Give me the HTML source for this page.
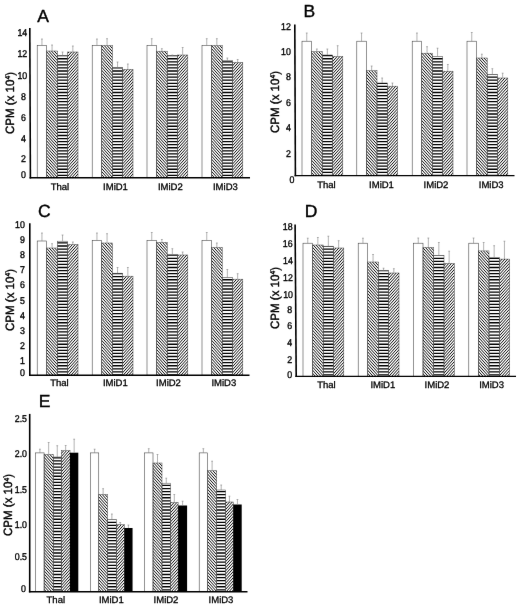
<!DOCTYPE html>
<html lang="en"><head><meta charset="utf-8"><title>Figure</title>
<style>html,body{margin:0;padding:0;background:#fff}body{width:520px;height:606px;overflow:hidden}svg{display:block}</style>
</head><body>
<svg width="520" height="606" viewBox="0 0 520 606" font-family='"Liberation Sans", sans-serif'><style>text{stroke:#000;stroke-width:0.4px;text-rendering:geometricPrecision}.t{stroke-width:0.35px}.x{stroke-width:0.3px}</style>
<defs>
<clipPath id="cd"><rect x="46.70" y="51.00" width="10.70" height="126.80"/><rect x="101.70" y="45.50" width="10.70" height="132.30"/><rect x="156.50" y="51.20" width="10.70" height="126.60"/><rect x="211.50" y="45.50" width="10.70" height="132.30"/><rect x="311.50" y="51.70" width="10.70" height="123.90"/><rect x="366.30" y="70.70" width="10.70" height="104.90"/><rect x="421.70" y="53.20" width="10.70" height="122.40"/><rect x="476.50" y="58.00" width="10.70" height="117.60"/><rect x="46.70" y="248.00" width="10.70" height="127.20"/><rect x="101.70" y="243.00" width="10.70" height="132.20"/><rect x="156.50" y="242.50" width="10.70" height="132.70"/><rect x="211.50" y="247.50" width="10.70" height="127.70"/><rect x="312.50" y="245.00" width="10.70" height="131.40"/><rect x="367.70" y="262.00" width="10.70" height="114.40"/><rect x="423.00" y="247.50" width="10.70" height="128.90"/><rect x="478.30" y="250.90" width="10.70" height="125.50"/><rect x="44.10" y="454.40" width="9.10" height="137.30"/><rect x="98.75" y="494.50" width="8.75" height="97.20"/><rect x="153.00" y="463.00" width="9.00" height="128.70"/><rect x="207.50" y="470.70" width="9.20" height="121.00"/></clipPath>
<clipPath id="ch"><rect x="57.40" y="55.50" width="10.30" height="122.30"/><rect x="112.40" y="67.50" width="10.30" height="110.30"/><rect x="167.20" y="55.50" width="10.30" height="122.30"/><rect x="222.20" y="60.50" width="10.30" height="117.30"/><rect x="322.20" y="55.00" width="10.30" height="120.60"/><rect x="377.00" y="83.00" width="10.30" height="92.60"/><rect x="432.40" y="56.50" width="10.30" height="119.10"/><rect x="487.20" y="74.50" width="10.30" height="101.10"/><rect x="57.40" y="241.20" width="10.30" height="134.00"/><rect x="112.40" y="273.20" width="10.30" height="102.00"/><rect x="167.20" y="254.50" width="10.30" height="120.70"/><rect x="222.20" y="277.50" width="10.30" height="97.70"/><rect x="323.20" y="246.20" width="10.30" height="130.20"/><rect x="378.40" y="270.50" width="10.30" height="105.90"/><rect x="433.70" y="255.40" width="10.30" height="121.00"/><rect x="489.00" y="257.40" width="10.30" height="119.00"/><rect x="53.20" y="457.00" width="8.10" height="134.70"/><rect x="107.50" y="519.70" width="8.75" height="72.00"/><rect x="162.00" y="483.20" width="8.50" height="108.50"/><rect x="216.70" y="490.00" width="9.00" height="101.70"/></clipPath>
<clipPath id="ce"><rect x="67.70" y="52.00" width="10.30" height="125.80"/><rect x="122.70" y="69.50" width="10.30" height="108.30"/><rect x="177.50" y="55.00" width="10.30" height="122.80"/><rect x="232.50" y="62.50" width="10.30" height="115.30"/><rect x="332.50" y="56.50" width="10.30" height="119.10"/><rect x="387.30" y="86.20" width="10.30" height="89.40"/><rect x="442.70" y="71.20" width="10.30" height="104.40"/><rect x="497.50" y="78.00" width="10.30" height="97.60"/><rect x="67.70" y="244.50" width="10.30" height="130.70"/><rect x="122.70" y="276.20" width="10.30" height="99.00"/><rect x="177.50" y="255.00" width="10.30" height="120.20"/><rect x="232.50" y="279.20" width="10.30" height="96.00"/><rect x="333.50" y="248.00" width="10.30" height="128.40"/><rect x="388.70" y="273.00" width="10.30" height="103.40"/><rect x="444.00" y="263.40" width="10.30" height="113.00"/><rect x="499.30" y="259.10" width="10.30" height="117.30"/><rect x="61.30" y="450.70" width="8.70" height="141.00"/><rect x="116.25" y="524.70" width="8.00" height="67.00"/><rect x="170.50" y="502.50" width="7.60" height="89.20"/><rect x="225.70" y="502.00" width="7.50" height="89.70"/></clipPath>
<filter id="soft" filterUnits="userSpaceOnUse" x="0" y="0" width="520" height="606" color-interpolation-filters="sRGB"><feConvolveMatrix order="3" kernelMatrix="0.00163 0.03713 0.00163 0.03713 0.84497 0.03713 0.00163 0.03713 0.00163" divisor="1" edgeMode="duplicate" preserveAlpha="true"/></filter>
</defs>
<g filter="url(#soft)">
<rect width="520" height="606" fill="#fff"/>
<path clip-path="url(#cd)" d="M0,-586.65L520,-6.14M0,-583.58L520,-3.07M0,-580.51L520,0.00M0,-577.44L520,3.07M0,-574.37L520,6.14M0,-571.30L520,9.21M0,-568.23L520,12.28M0,-565.16L520,15.35M0,-562.09L520,18.42M0,-559.02L520,21.49M0,-555.95L520,24.56M0,-552.88L520,27.63M0,-549.81L520,30.70M0,-546.74L520,33.77M0,-543.67L520,36.84M0,-540.60L520,39.91M0,-537.53L520,42.98M0,-534.46L520,46.05M0,-531.39L520,49.12M0,-528.32L520,52.19M0,-525.25L520,55.26M0,-522.18L520,58.33M0,-519.11L520,61.40M0,-516.04L520,64.47M0,-512.97L520,67.54M0,-509.90L520,70.61M0,-506.83L520,73.68M0,-503.76L520,76.75M0,-500.69L520,79.82M0,-497.62L520,82.89M0,-494.55L520,85.96M0,-491.48L520,89.03M0,-488.41L520,92.10M0,-485.34L520,95.17M0,-482.27L520,98.24M0,-479.20L520,101.31M0,-476.13L520,104.38M0,-473.06L520,107.45M0,-469.99L520,110.52M0,-466.92L520,113.59M0,-463.85L520,116.66M0,-460.78L520,119.73M0,-457.71L520,122.80M0,-454.64L520,125.87M0,-451.57L520,128.94M0,-448.50L520,132.01M0,-445.43L520,135.08M0,-442.36L520,138.15M0,-439.29L520,141.22M0,-436.22L520,144.29M0,-433.15L520,147.36M0,-430.08L520,150.43M0,-427.01L520,153.50M0,-423.94L520,156.57M0,-420.87L520,159.64M0,-417.80L520,162.71M0,-414.73L520,165.78M0,-411.66L520,168.85M0,-408.59L520,171.92M0,-405.52L520,174.99M0,-402.45L520,178.06M0,-399.38L520,181.13M0,-396.31L520,184.20M0,-393.24L520,187.27M0,-390.17L520,190.34M0,-387.10L520,193.41M0,-384.03L520,196.48M0,-380.96L520,199.55M0,-377.89L520,202.62M0,-374.82L520,205.69M0,-371.75L520,208.76M0,-368.68L520,211.83M0,-365.61L520,214.90M0,-362.54L520,217.97M0,-359.47L520,221.04M0,-356.40L520,224.11M0,-353.33L520,227.18M0,-350.26L520,230.25M0,-347.19L520,233.32M0,-344.12L520,236.39M0,-341.05L520,239.46M0,-337.98L520,242.53M0,-334.91L520,245.60M0,-331.84L520,248.67M0,-328.77L520,251.74M0,-325.70L520,254.81M0,-322.63L520,257.88M0,-319.56L520,260.95M0,-316.49L520,264.02M0,-313.42L520,267.09M0,-310.35L520,270.16M0,-307.28L520,273.23M0,-304.21L520,276.30M0,-301.14L520,279.37M0,-298.07L520,282.44M0,-295.00L520,285.51M0,-291.93L520,288.58M0,-288.86L520,291.65M0,-285.79L520,294.72M0,-282.72L520,297.79M0,-279.65L520,300.86M0,-276.58L520,303.93M0,-273.51L520,307.00M0,-270.44L520,310.07M0,-267.37L520,313.14M0,-264.30L520,316.21M0,-261.23L520,319.28M0,-258.16L520,322.35M0,-255.09L520,325.42M0,-252.02L520,328.49M0,-248.95L520,331.56M0,-245.88L520,334.63M0,-242.81L520,337.70M0,-239.74L520,340.77M0,-236.67L520,343.84M0,-233.60L520,346.91M0,-230.53L520,349.98M0,-227.46L520,353.05M0,-224.39L520,356.12M0,-221.32L520,359.19M0,-218.25L520,362.26M0,-215.18L520,365.33M0,-212.11L520,368.40M0,-209.04L520,371.47M0,-205.97L520,374.54M0,-202.90L520,377.61M0,-199.83L520,380.68M0,-196.76L520,383.75M0,-193.69L520,386.82M0,-190.62L520,389.89M0,-187.55L520,392.96M0,-184.48L520,396.03M0,-181.41L520,399.10M0,-178.34L520,402.17M0,-175.27L520,405.24M0,-172.20L520,408.31M0,-169.13L520,411.38M0,-166.06L520,414.45M0,-162.99L520,417.52M0,-159.92L520,420.59M0,-156.85L520,423.66M0,-153.78L520,426.73M0,-150.71L520,429.80M0,-147.64L520,432.87M0,-144.57L520,435.94M0,-141.50L520,439.01M0,-138.43L520,442.08M0,-135.36L520,445.15M0,-132.29L520,448.22M0,-129.22L520,451.29M0,-126.15L520,454.36M0,-123.08L520,457.43M0,-120.01L520,460.50M0,-116.94L520,463.57M0,-113.87L520,466.64M0,-110.80L520,469.71M0,-107.73L520,472.78M0,-104.66L520,475.85M0,-101.59L520,478.92M0,-98.52L520,481.99M0,-95.45L520,485.06M0,-92.38L520,488.13M0,-89.31L520,491.20M0,-86.24L520,494.27M0,-83.17L520,497.34M0,-80.10L520,500.41M0,-77.03L520,503.48M0,-73.96L520,506.55M0,-70.89L520,509.62M0,-67.82L520,512.69M0,-64.75L520,515.76M0,-61.68L520,518.83M0,-58.61L520,521.90M0,-55.54L520,524.97M0,-52.47L520,528.04M0,-49.40L520,531.11M0,-46.33L520,534.18M0,-43.26L520,537.25M0,-40.19L520,540.32M0,-37.12L520,543.39M0,-34.05L520,546.46M0,-30.98L520,549.53M0,-27.91L520,552.60M0,-24.84L520,555.67M0,-21.77L520,558.74M0,-18.70L520,561.81M0,-15.63L520,564.88M0,-12.56L520,567.95M0,-9.49L520,571.02M0,-6.42L520,574.09M0,-3.35L520,577.16M0,-0.28L520,580.23M0,2.79L520,583.30M0,5.86L520,586.37M0,8.93L520,589.44M0,12.00L520,592.51M0,15.07L520,595.58M0,18.14L520,598.65M0,21.21L520,601.72M0,24.28L520,604.79M0,27.35L520,607.86M0,30.42L520,610.93M0,33.49L520,614.00M0,36.56L520,617.07M0,39.63L520,620.14M0,42.70L520,623.21M0,45.77L520,626.28M0,48.84L520,629.35M0,51.91L520,632.42M0,54.98L520,635.49M0,58.05L520,638.56M0,61.12L520,641.63M0,64.19L520,644.70M0,67.26L520,647.77M0,70.33L520,650.84M0,73.40L520,653.91M0,76.47L520,656.98M0,79.54L520,660.05M0,82.61L520,663.12M0,85.68L520,666.19M0,88.75L520,669.26M0,91.82L520,672.33M0,94.89L520,675.40M0,97.96L520,678.47M0,101.03L520,681.54M0,104.10L520,684.61M0,107.17L520,687.68M0,110.24L520,690.75M0,113.31L520,693.82M0,116.38L520,696.89M0,119.45L520,699.96M0,122.52L520,703.03M0,125.59L520,706.10M0,128.66L520,709.17M0,131.73L520,712.24M0,134.80L520,715.31M0,137.87L520,718.38M0,140.94L520,721.45M0,144.01L520,724.52M0,147.08L520,727.59M0,150.15L520,730.66M0,153.22L520,733.73M0,156.29L520,736.80M0,159.36L520,739.87M0,162.43L520,742.94M0,165.50L520,746.01M0,168.57L520,749.08M0,171.64L520,752.15M0,174.71L520,755.22M0,177.78L520,758.29M0,180.85L520,761.36M0,183.92L520,764.43M0,186.99L520,767.50M0,190.06L520,770.57M0,193.13L520,773.64M0,196.20L520,776.71M0,199.27L520,779.78M0,202.34L520,782.85M0,205.41L520,785.92M0,208.48L520,788.99M0,211.55L520,792.06M0,214.62L520,795.13M0,217.69L520,798.20M0,220.76L520,801.27M0,223.83L520,804.34M0,226.90L520,807.41M0,229.97L520,810.48M0,233.04L520,813.55M0,236.11L520,816.62M0,239.18L520,819.69M0,242.25L520,822.76M0,245.32L520,825.83M0,248.39L520,828.90M0,251.46L520,831.97M0,254.53L520,835.04M0,257.60L520,838.11M0,260.67L520,841.18M0,263.74L520,844.25M0,266.81L520,847.32M0,269.88L520,850.39M0,272.95L520,853.46M0,276.02L520,856.53M0,279.09L520,859.60M0,282.16L520,862.67M0,285.23L520,865.74M0,288.30L520,868.81M0,291.37L520,871.88M0,294.44L520,874.95M0,297.51L520,878.02M0,300.58L520,881.09M0,303.65L520,884.16M0,306.72L520,887.23M0,309.79L520,890.30M0,312.86L520,893.37M0,315.93L520,896.44M0,319.00L520,899.51M0,322.07L520,902.58M0,325.14L520,905.65M0,328.21L520,908.72M0,331.28L520,911.79M0,334.35L520,914.86M0,337.42L520,917.93M0,340.49L520,921.00M0,343.56L520,924.07M0,346.63L520,927.14M0,349.70L520,930.21M0,352.77L520,933.28M0,355.84L520,936.35M0,358.91L520,939.42M0,361.98L520,942.49M0,365.05L520,945.56M0,368.12L520,948.63M0,371.19L520,951.70M0,374.26L520,954.77M0,377.33L520,957.84M0,380.40L520,960.91M0,383.47L520,963.98M0,386.54L520,967.05M0,389.61L520,970.12M0,392.68L520,973.19M0,395.75L520,976.26M0,398.82L520,979.33M0,401.89L520,982.40M0,404.96L520,985.47M0,408.03L520,988.54M0,411.10L520,991.61M0,414.17L520,994.68M0,417.24L520,997.75M0,420.31L520,1000.82M0,423.38L520,1003.89M0,426.45L520,1006.96M0,429.52L520,1010.03M0,432.59L520,1013.10M0,435.66L520,1016.17M0,438.73L520,1019.24M0,441.80L520,1022.31M0,444.87L520,1025.38M0,447.94L520,1028.45M0,451.01L520,1031.52M0,454.08L520,1034.59M0,457.15L520,1037.66M0,460.22L520,1040.73M0,463.29L520,1043.80M0,466.36L520,1046.87M0,469.43L520,1049.94M0,472.50L520,1053.01M0,475.57L520,1056.08M0,478.64L520,1059.15M0,481.71L520,1062.22M0,484.78L520,1065.29M0,487.85L520,1068.36M0,490.92L520,1071.43M0,493.99L520,1074.50M0,497.06L520,1077.57M0,500.13L520,1080.64M0,503.20L520,1083.71M0,506.27L520,1086.78M0,509.34L520,1089.85M0,512.41L520,1092.92M0,515.48L520,1095.99M0,518.55L520,1099.06M0,521.62L520,1102.13M0,524.69L520,1105.20M0,527.76L520,1108.27M0,530.83L520,1111.34M0,533.90L520,1114.41M0,536.97L520,1117.48M0,540.04L520,1120.55M0,543.11L520,1123.62M0,546.18L520,1126.69M0,549.25L520,1129.76M0,552.32L520,1132.83M0,555.39L520,1135.90M0,558.46L520,1138.97M0,561.53L520,1142.04M0,564.60L520,1145.11M0,567.67L520,1148.18M0,570.74L520,1151.25M0,573.81L520,1154.32M0,576.88L520,1157.39M0,579.95L520,1160.46M0,583.02L520,1163.53M0,586.09L520,1166.60M0,589.16L520,1169.67M0,592.23L520,1172.74M0,595.30L520,1175.81M0,598.37L520,1178.88M0,601.44L520,1181.95M0,604.51L520,1185.02M0,607.58L520,1188.09M0,610.65L520,1191.16M0,613.72L520,1194.23" stroke="#000" stroke-width="0.95" fill="none"/>
<path clip-path="url(#ce)" d="M0,-6.14L520,-586.65M0,-3.07L520,-583.58M0,0.00L520,-580.51M0,3.07L520,-577.44M0,6.14L520,-574.37M0,9.21L520,-571.30M0,12.28L520,-568.23M0,15.35L520,-565.16M0,18.42L520,-562.09M0,21.49L520,-559.02M0,24.56L520,-555.95M0,27.63L520,-552.88M0,30.70L520,-549.81M0,33.77L520,-546.74M0,36.84L520,-543.67M0,39.91L520,-540.60M0,42.98L520,-537.53M0,46.05L520,-534.46M0,49.12L520,-531.39M0,52.19L520,-528.32M0,55.26L520,-525.25M0,58.33L520,-522.18M0,61.40L520,-519.11M0,64.47L520,-516.04M0,67.54L520,-512.97M0,70.61L520,-509.90M0,73.68L520,-506.83M0,76.75L520,-503.76M0,79.82L520,-500.69M0,82.89L520,-497.62M0,85.96L520,-494.55M0,89.03L520,-491.48M0,92.10L520,-488.41M0,95.17L520,-485.34M0,98.24L520,-482.27M0,101.31L520,-479.20M0,104.38L520,-476.13M0,107.45L520,-473.06M0,110.52L520,-469.99M0,113.59L520,-466.92M0,116.66L520,-463.85M0,119.73L520,-460.78M0,122.80L520,-457.71M0,125.87L520,-454.64M0,128.94L520,-451.57M0,132.01L520,-448.50M0,135.08L520,-445.43M0,138.15L520,-442.36M0,141.22L520,-439.29M0,144.29L520,-436.22M0,147.36L520,-433.15M0,150.43L520,-430.08M0,153.50L520,-427.01M0,156.57L520,-423.94M0,159.64L520,-420.87M0,162.71L520,-417.80M0,165.78L520,-414.73M0,168.85L520,-411.66M0,171.92L520,-408.59M0,174.99L520,-405.52M0,178.06L520,-402.45M0,181.13L520,-399.38M0,184.20L520,-396.31M0,187.27L520,-393.24M0,190.34L520,-390.17M0,193.41L520,-387.10M0,196.48L520,-384.03M0,199.55L520,-380.96M0,202.62L520,-377.89M0,205.69L520,-374.82M0,208.76L520,-371.75M0,211.83L520,-368.68M0,214.90L520,-365.61M0,217.97L520,-362.54M0,221.04L520,-359.47M0,224.11L520,-356.40M0,227.18L520,-353.33M0,230.25L520,-350.26M0,233.32L520,-347.19M0,236.39L520,-344.12M0,239.46L520,-341.05M0,242.53L520,-337.98M0,245.60L520,-334.91M0,248.67L520,-331.84M0,251.74L520,-328.77M0,254.81L520,-325.70M0,257.88L520,-322.63M0,260.95L520,-319.56M0,264.02L520,-316.49M0,267.09L520,-313.42M0,270.16L520,-310.35M0,273.23L520,-307.28M0,276.30L520,-304.21M0,279.37L520,-301.14M0,282.44L520,-298.07M0,285.51L520,-295.00M0,288.58L520,-291.93M0,291.65L520,-288.86M0,294.72L520,-285.79M0,297.79L520,-282.72M0,300.86L520,-279.65M0,303.93L520,-276.58M0,307.00L520,-273.51M0,310.07L520,-270.44M0,313.14L520,-267.37M0,316.21L520,-264.30M0,319.28L520,-261.23M0,322.35L520,-258.16M0,325.42L520,-255.09M0,328.49L520,-252.02M0,331.56L520,-248.95M0,334.63L520,-245.88M0,337.70L520,-242.81M0,340.77L520,-239.74M0,343.84L520,-236.67M0,346.91L520,-233.60M0,349.98L520,-230.53M0,353.05L520,-227.46M0,356.12L520,-224.39M0,359.19L520,-221.32M0,362.26L520,-218.25M0,365.33L520,-215.18M0,368.40L520,-212.11M0,371.47L520,-209.04M0,374.54L520,-205.97M0,377.61L520,-202.90M0,380.68L520,-199.83M0,383.75L520,-196.76M0,386.82L520,-193.69M0,389.89L520,-190.62M0,392.96L520,-187.55M0,396.03L520,-184.48M0,399.10L520,-181.41M0,402.17L520,-178.34M0,405.24L520,-175.27M0,408.31L520,-172.20M0,411.38L520,-169.13M0,414.45L520,-166.06M0,417.52L520,-162.99M0,420.59L520,-159.92M0,423.66L520,-156.85M0,426.73L520,-153.78M0,429.80L520,-150.71M0,432.87L520,-147.64M0,435.94L520,-144.57M0,439.01L520,-141.50M0,442.08L520,-138.43M0,445.15L520,-135.36M0,448.22L520,-132.29M0,451.29L520,-129.22M0,454.36L520,-126.15M0,457.43L520,-123.08M0,460.50L520,-120.01M0,463.57L520,-116.94M0,466.64L520,-113.87M0,469.71L520,-110.80M0,472.78L520,-107.73M0,475.85L520,-104.66M0,478.92L520,-101.59M0,481.99L520,-98.52M0,485.06L520,-95.45M0,488.13L520,-92.38M0,491.20L520,-89.31M0,494.27L520,-86.24M0,497.34L520,-83.17M0,500.41L520,-80.10M0,503.48L520,-77.03M0,506.55L520,-73.96M0,509.62L520,-70.89M0,512.69L520,-67.82M0,515.76L520,-64.75M0,518.83L520,-61.68M0,521.90L520,-58.61M0,524.97L520,-55.54M0,528.04L520,-52.47M0,531.11L520,-49.40M0,534.18L520,-46.33M0,537.25L520,-43.26M0,540.32L520,-40.19M0,543.39L520,-37.12M0,546.46L520,-34.05M0,549.53L520,-30.98M0,552.60L520,-27.91M0,555.67L520,-24.84M0,558.74L520,-21.77M0,561.81L520,-18.70M0,564.88L520,-15.63M0,567.95L520,-12.56M0,571.02L520,-9.49M0,574.09L520,-6.42M0,577.16L520,-3.35M0,580.23L520,-0.28M0,583.30L520,2.79M0,586.37L520,5.86M0,589.44L520,8.93M0,592.51L520,12.00M0,595.58L520,15.07M0,598.65L520,18.14M0,601.72L520,21.21M0,604.79L520,24.28M0,607.86L520,27.35M0,610.93L520,30.42M0,614.00L520,33.49M0,617.07L520,36.56M0,620.14L520,39.63M0,623.21L520,42.70M0,626.28L520,45.77M0,629.35L520,48.84M0,632.42L520,51.91M0,635.49L520,54.98M0,638.56L520,58.05M0,641.63L520,61.12M0,644.70L520,64.19M0,647.77L520,67.26M0,650.84L520,70.33M0,653.91L520,73.40M0,656.98L520,76.47M0,660.05L520,79.54M0,663.12L520,82.61M0,666.19L520,85.68M0,669.26L520,88.75M0,672.33L520,91.82M0,675.40L520,94.89M0,678.47L520,97.96M0,681.54L520,101.03M0,684.61L520,104.10M0,687.68L520,107.17M0,690.75L520,110.24M0,693.82L520,113.31M0,696.89L520,116.38M0,699.96L520,119.45M0,703.03L520,122.52M0,706.10L520,125.59M0,709.17L520,128.66M0,712.24L520,131.73M0,715.31L520,134.80M0,718.38L520,137.87M0,721.45L520,140.94M0,724.52L520,144.01M0,727.59L520,147.08M0,730.66L520,150.15M0,733.73L520,153.22M0,736.80L520,156.29M0,739.87L520,159.36M0,742.94L520,162.43M0,746.01L520,165.50M0,749.08L520,168.57M0,752.15L520,171.64M0,755.22L520,174.71M0,758.29L520,177.78M0,761.36L520,180.85M0,764.43L520,183.92M0,767.50L520,186.99M0,770.57L520,190.06M0,773.64L520,193.13M0,776.71L520,196.20M0,779.78L520,199.27M0,782.85L520,202.34M0,785.92L520,205.41M0,788.99L520,208.48M0,792.06L520,211.55M0,795.13L520,214.62M0,798.20L520,217.69M0,801.27L520,220.76M0,804.34L520,223.83M0,807.41L520,226.90M0,810.48L520,229.97M0,813.55L520,233.04M0,816.62L520,236.11M0,819.69L520,239.18M0,822.76L520,242.25M0,825.83L520,245.32M0,828.90L520,248.39M0,831.97L520,251.46M0,835.04L520,254.53M0,838.11L520,257.60M0,841.18L520,260.67M0,844.25L520,263.74M0,847.32L520,266.81M0,850.39L520,269.88M0,853.46L520,272.95M0,856.53L520,276.02M0,859.60L520,279.09M0,862.67L520,282.16M0,865.74L520,285.23M0,868.81L520,288.30M0,871.88L520,291.37M0,874.95L520,294.44M0,878.02L520,297.51M0,881.09L520,300.58M0,884.16L520,303.65M0,887.23L520,306.72M0,890.30L520,309.79M0,893.37L520,312.86M0,896.44L520,315.93M0,899.51L520,319.00M0,902.58L520,322.07M0,905.65L520,325.14M0,908.72L520,328.21M0,911.79L520,331.28M0,914.86L520,334.35M0,917.93L520,337.42M0,921.00L520,340.49M0,924.07L520,343.56M0,927.14L520,346.63M0,930.21L520,349.70M0,933.28L520,352.77M0,936.35L520,355.84M0,939.42L520,358.91M0,942.49L520,361.98M0,945.56L520,365.05M0,948.63L520,368.12M0,951.70L520,371.19M0,954.77L520,374.26M0,957.84L520,377.33M0,960.91L520,380.40M0,963.98L520,383.47M0,967.05L520,386.54M0,970.12L520,389.61M0,973.19L520,392.68M0,976.26L520,395.75M0,979.33L520,398.82M0,982.40L520,401.89M0,985.47L520,404.96M0,988.54L520,408.03M0,991.61L520,411.10M0,994.68L520,414.17M0,997.75L520,417.24M0,1000.82L520,420.31M0,1003.89L520,423.38M0,1006.96L520,426.45M0,1010.03L520,429.52M0,1013.10L520,432.59M0,1016.17L520,435.66M0,1019.24L520,438.73M0,1022.31L520,441.80M0,1025.38L520,444.87M0,1028.45L520,447.94M0,1031.52L520,451.01M0,1034.59L520,454.08M0,1037.66L520,457.15M0,1040.73L520,460.22M0,1043.80L520,463.29M0,1046.87L520,466.36M0,1049.94L520,469.43M0,1053.01L520,472.50M0,1056.08L520,475.57M0,1059.15L520,478.64M0,1062.22L520,481.71M0,1065.29L520,484.78M0,1068.36L520,487.85M0,1071.43L520,490.92M0,1074.50L520,493.99M0,1077.57L520,497.06M0,1080.64L520,500.13M0,1083.71L520,503.20M0,1086.78L520,506.27M0,1089.85L520,509.34M0,1092.92L520,512.41M0,1095.99L520,515.48M0,1099.06L520,518.55M0,1102.13L520,521.62M0,1105.20L520,524.69M0,1108.27L520,527.76M0,1111.34L520,530.83M0,1114.41L520,533.90M0,1117.48L520,536.97M0,1120.55L520,540.04M0,1123.62L520,543.11M0,1126.69L520,546.18M0,1129.76L520,549.25M0,1132.83L520,552.32M0,1135.90L520,555.39M0,1138.97L520,558.46M0,1142.04L520,561.53M0,1145.11L520,564.60M0,1148.18L520,567.67M0,1151.25L520,570.74M0,1154.32L520,573.81M0,1157.39L520,576.88M0,1160.46L520,579.95M0,1163.53L520,583.02M0,1166.60L520,586.09M0,1169.67L520,589.16M0,1172.74L520,592.23M0,1175.81L520,595.30M0,1178.88L520,598.37M0,1181.95L520,601.44M0,1185.02L520,604.51M0,1188.09L520,607.58M0,1191.16L520,610.65M0,1194.23L520,613.72" stroke="#000" stroke-width="0.95" fill="none"/>
<path clip-path="url(#ch)" d="M0,0.40H520M0,3.47H520M0,6.54H520M0,9.61H520M0,12.68H520M0,15.75H520M0,18.82H520M0,21.89H520M0,24.96H520M0,28.03H520M0,31.10H520M0,34.17H520M0,37.24H520M0,40.31H520M0,43.38H520M0,46.45H520M0,49.52H520M0,52.59H520M0,55.66H520M0,58.73H520M0,61.80H520M0,64.87H520M0,67.94H520M0,71.01H520M0,74.08H520M0,77.15H520M0,80.22H520M0,83.29H520M0,86.36H520M0,89.43H520M0,92.50H520M0,95.57H520M0,98.64H520M0,101.71H520M0,104.78H520M0,107.85H520M0,110.92H520M0,113.99H520M0,117.06H520M0,120.13H520M0,123.20H520M0,126.27H520M0,129.34H520M0,132.41H520M0,135.48H520M0,138.55H520M0,141.62H520M0,144.69H520M0,147.76H520M0,150.83H520M0,153.90H520M0,156.97H520M0,160.04H520M0,163.11H520M0,166.18H520M0,169.25H520M0,172.32H520M0,175.39H520M0,178.46H520M0,181.53H520M0,184.60H520M0,187.67H520M0,190.74H520M0,193.81H520M0,196.88H520M0,199.95H520M0,203.02H520M0,206.09H520M0,209.16H520M0,212.23H520M0,215.30H520M0,218.37H520M0,221.44H520M0,224.51H520M0,227.58H520M0,230.65H520M0,233.72H520M0,236.79H520M0,239.86H520M0,242.93H520M0,246.00H520M0,249.07H520M0,252.14H520M0,255.21H520M0,258.28H520M0,261.35H520M0,264.42H520M0,267.49H520M0,270.56H520M0,273.63H520M0,276.70H520M0,279.77H520M0,282.84H520M0,285.91H520M0,288.98H520M0,292.05H520M0,295.12H520M0,298.19H520M0,301.26H520M0,304.33H520M0,307.40H520M0,310.47H520M0,313.54H520M0,316.61H520M0,319.68H520M0,322.75H520M0,325.82H520M0,328.89H520M0,331.96H520M0,335.03H520M0,338.10H520M0,341.17H520M0,344.24H520M0,347.31H520M0,350.38H520M0,353.45H520M0,356.52H520M0,359.59H520M0,362.66H520M0,365.73H520M0,368.80H520M0,371.87H520M0,374.94H520M0,378.01H520M0,381.08H520M0,384.15H520M0,387.22H520M0,390.29H520M0,393.36H520M0,396.43H520M0,399.50H520M0,402.57H520M0,405.64H520M0,408.71H520M0,411.78H520M0,414.85H520M0,417.92H520M0,420.99H520M0,424.06H520M0,427.13H520M0,430.20H520M0,433.27H520M0,436.34H520M0,439.41H520M0,442.48H520M0,445.55H520M0,448.62H520M0,451.69H520M0,454.76H520M0,457.83H520M0,460.90H520M0,463.97H520M0,467.04H520M0,470.11H520M0,473.18H520M0,476.25H520M0,479.32H520M0,482.39H520M0,485.46H520M0,488.53H520M0,491.60H520M0,494.67H520M0,497.74H520M0,500.81H520M0,503.88H520M0,506.95H520M0,510.02H520M0,513.09H520M0,516.16H520M0,519.23H520M0,522.30H520M0,525.37H520M0,528.44H520M0,531.51H520M0,534.58H520M0,537.65H520M0,540.72H520M0,543.79H520M0,546.86H520M0,549.93H520M0,553.00H520M0,556.07H520M0,559.14H520M0,562.21H520M0,565.28H520M0,568.35H520M0,571.42H520M0,574.49H520M0,577.56H520M0,580.63H520M0,583.70H520M0,586.77H520M0,589.84H520M0,592.91H520M0,595.98H520M0,599.05H520M0,602.12H520M0,605.19H520M0,608.26H520" stroke="#000" stroke-width="1.3" fill="none"/>
<g><!-- panel A -->
<rect x="37.20" y="45.50" width="9.50" height="132.30" fill="none" stroke="#3a3a3a" stroke-width="0.55"/>
<path d="M41.95,45.50V39.00M41.05,39.00H42.85" stroke="#808080" stroke-width="0.6" fill="none"/>
<rect x="46.70" y="51.00" width="10.70" height="126.80" fill="none" stroke="#444" stroke-width="0.5"/>
<path d="M52.05,51.00V45.00M51.15,45.00H52.95" stroke="#808080" stroke-width="0.6" fill="none"/>
<rect x="57.40" y="55.50" width="10.30" height="122.30" fill="none" stroke="#444" stroke-width="0.5"/>
<path d="M62.55,55.50V52.00M61.65,52.00H63.45" stroke="#808080" stroke-width="0.6" fill="none"/>
<rect x="67.70" y="52.00" width="10.30" height="125.80" fill="none" stroke="#444" stroke-width="0.5"/>
<path d="M72.85,52.00V46.00M71.95,46.00H73.75" stroke="#808080" stroke-width="0.6" fill="none"/>
<rect x="92.20" y="45.50" width="9.50" height="132.30" fill="none" stroke="#3a3a3a" stroke-width="0.55"/>
<path d="M96.95,45.50V39.00M96.05,39.00H97.85" stroke="#808080" stroke-width="0.6" fill="none"/>
<rect x="101.70" y="45.50" width="10.70" height="132.30" fill="none" stroke="#444" stroke-width="0.5"/>
<path d="M107.05,45.50V38.70M106.15,38.70H107.95" stroke="#808080" stroke-width="0.6" fill="none"/>
<rect x="112.40" y="67.50" width="10.30" height="110.30" fill="none" stroke="#444" stroke-width="0.5"/>
<path d="M117.55,67.50V62.00M116.65,62.00H118.45" stroke="#808080" stroke-width="0.6" fill="none"/>
<rect x="122.70" y="69.50" width="10.30" height="108.30" fill="none" stroke="#444" stroke-width="0.5"/>
<path d="M127.85,69.50V64.00M126.95,64.00H128.75" stroke="#808080" stroke-width="0.6" fill="none"/>
<rect x="147.00" y="45.50" width="9.50" height="132.30" fill="none" stroke="#3a3a3a" stroke-width="0.55"/>
<path d="M151.75,45.50V38.70M150.85,38.70H152.65" stroke="#808080" stroke-width="0.6" fill="none"/>
<rect x="156.50" y="51.20" width="10.70" height="126.60" fill="none" stroke="#444" stroke-width="0.5"/>
<path d="M161.85,51.20V48.70M160.95,48.70H162.75" stroke="#808080" stroke-width="0.6" fill="none"/>
<rect x="167.20" y="55.50" width="10.30" height="122.30" fill="none" stroke="#444" stroke-width="0.5"/>
<path d="M172.35,55.50V55.00M171.45,55.00H173.25" stroke="#808080" stroke-width="0.6" fill="none"/>
<rect x="177.50" y="55.00" width="10.30" height="122.80" fill="none" stroke="#444" stroke-width="0.5"/>
<path d="M182.65,55.00V47.50M181.75,47.50H183.55" stroke="#808080" stroke-width="0.6" fill="none"/>
<rect x="202.00" y="45.50" width="9.50" height="132.30" fill="none" stroke="#3a3a3a" stroke-width="0.55"/>
<path d="M206.75,45.50V38.70M205.85,38.70H207.65" stroke="#808080" stroke-width="0.6" fill="none"/>
<rect x="211.50" y="45.50" width="10.70" height="132.30" fill="none" stroke="#444" stroke-width="0.5"/>
<path d="M216.85,45.50V38.70M215.95,38.70H217.75" stroke="#808080" stroke-width="0.6" fill="none"/>
<rect x="222.20" y="60.50" width="10.30" height="117.30" fill="none" stroke="#444" stroke-width="0.5"/>
<path d="M227.35,60.50V58.00M226.45,58.00H228.25" stroke="#808080" stroke-width="0.6" fill="none"/>
<rect x="232.50" y="62.50" width="10.30" height="115.30" fill="none" stroke="#444" stroke-width="0.5"/>
<path d="M237.65,62.50V59.50M236.75,59.50H238.55" stroke="#808080" stroke-width="0.6" fill="none"/>
<path d="M29.8,28L30.4,178.5" stroke="#000" stroke-width="1.6" fill="none"/>
<path d="M29.599999999999998,177.8H250" stroke="#000" stroke-width="1.4" fill="none"/>
<text transform="translate(27.20,36.11) scale(0.9,1)" class="t" font-size="9.8" text-anchor="end" fill="#000">14</text>
<text transform="translate(27.20,57.11) scale(0.9,1)" class="t" font-size="9.8" text-anchor="end" fill="#000">12</text>
<text transform="translate(27.20,79.11) scale(0.9,1)" class="t" font-size="9.8" text-anchor="end" fill="#000">10</text>
<text transform="translate(26.00,99.61) scale(0.9,1)" class="t" font-size="9.8" text-anchor="end" fill="#000">8</text>
<text transform="translate(26.00,120.81) scale(0.9,1)" class="t" font-size="9.8" text-anchor="end" fill="#000">6</text>
<text transform="translate(26.00,142.01) scale(0.9,1)" class="t" font-size="9.8" text-anchor="end" fill="#000">4</text>
<text transform="translate(26.00,162.31) scale(0.9,1)" class="t" font-size="9.8" text-anchor="end" fill="#000">2</text>
<text transform="translate(26.00,178.31) scale(0.9,1)" class="t" font-size="9.8" text-anchor="end" fill="#000">0</text>
<text transform="translate(13.9,103) rotate(-90) scale(0.96,1)" font-size="12.0" text-anchor="middle" fill="#000">CPM (x 10<tspan font-size="7" dy="-3.8">4</tspan><tspan dy="3.8">)</tspan></text>
<text x="60" y="190.3" class="x" font-size="9.5" text-anchor="middle" fill="#000">Thal</text>
<text x="115.5" y="190.3" class="x" font-size="9.5" text-anchor="middle" fill="#000">IMiD1</text>
<text x="170.3" y="190.3" class="x" font-size="9.5" text-anchor="middle" fill="#000">IMiD2</text>
<text x="225.4" y="190.3" class="x" font-size="9.5" text-anchor="middle" fill="#000">IMiD3</text>
<text x="37.3" y="21.8" font-size="17.5" fill="#000">A</text>
</g>
<g><!-- panel B -->
<rect x="302.00" y="41.20" width="9.50" height="134.40" fill="none" stroke="#3a3a3a" stroke-width="0.55"/>
<path d="M306.75,41.20V33.00M305.85,33.00H307.65" stroke="#808080" stroke-width="0.6" fill="none"/>
<rect x="311.50" y="51.70" width="10.70" height="123.90" fill="none" stroke="#444" stroke-width="0.5"/>
<path d="M316.85,51.70V49.00M315.95,49.00H317.75" stroke="#808080" stroke-width="0.6" fill="none"/>
<rect x="322.20" y="55.00" width="10.30" height="120.60" fill="none" stroke="#444" stroke-width="0.5"/>
<path d="M327.35,55.00V49.00M326.45,49.00H328.25" stroke="#808080" stroke-width="0.6" fill="none"/>
<rect x="332.50" y="56.50" width="10.30" height="119.10" fill="none" stroke="#444" stroke-width="0.5"/>
<path d="M337.65,56.50V45.70M336.75,45.70H338.55" stroke="#808080" stroke-width="0.6" fill="none"/>
<rect x="356.80" y="41.20" width="9.50" height="134.40" fill="none" stroke="#3a3a3a" stroke-width="0.55"/>
<path d="M361.55,41.20V33.00M360.65,33.00H362.45" stroke="#808080" stroke-width="0.6" fill="none"/>
<rect x="366.30" y="70.70" width="10.70" height="104.90" fill="none" stroke="#444" stroke-width="0.5"/>
<path d="M371.65,70.70V66.00M370.75,66.00H372.55" stroke="#808080" stroke-width="0.6" fill="none"/>
<rect x="377.00" y="83.00" width="10.30" height="92.60" fill="none" stroke="#444" stroke-width="0.5"/>
<path d="M382.15,83.00V78.00M381.25,78.00H383.05" stroke="#808080" stroke-width="0.6" fill="none"/>
<rect x="387.30" y="86.20" width="10.30" height="89.40" fill="none" stroke="#444" stroke-width="0.5"/>
<path d="M392.45,86.20V83.00M391.55,83.00H393.35" stroke="#808080" stroke-width="0.6" fill="none"/>
<rect x="412.20" y="41.20" width="9.50" height="134.40" fill="none" stroke="#3a3a3a" stroke-width="0.55"/>
<path d="M416.95,41.20V33.00M416.05,33.00H417.85" stroke="#808080" stroke-width="0.6" fill="none"/>
<rect x="421.70" y="53.20" width="10.70" height="122.40" fill="none" stroke="#444" stroke-width="0.5"/>
<path d="M427.05,53.20V46.70M426.15,46.70H427.95" stroke="#808080" stroke-width="0.6" fill="none"/>
<rect x="432.40" y="56.50" width="10.30" height="119.10" fill="none" stroke="#444" stroke-width="0.5"/>
<path d="M437.55,56.50V48.20M436.65,48.20H438.45" stroke="#808080" stroke-width="0.6" fill="none"/>
<rect x="442.70" y="71.20" width="10.30" height="104.40" fill="none" stroke="#444" stroke-width="0.5"/>
<path d="M447.85,71.20V64.50M446.95,64.50H448.75" stroke="#808080" stroke-width="0.6" fill="none"/>
<rect x="467.00" y="41.20" width="9.50" height="134.40" fill="none" stroke="#3a3a3a" stroke-width="0.55"/>
<path d="M471.75,41.20V32.50M470.85,32.50H472.65" stroke="#808080" stroke-width="0.6" fill="none"/>
<rect x="476.50" y="58.00" width="10.70" height="117.60" fill="none" stroke="#444" stroke-width="0.5"/>
<path d="M481.85,58.00V54.20M480.95,54.20H482.75" stroke="#808080" stroke-width="0.6" fill="none"/>
<rect x="487.20" y="74.50" width="10.30" height="101.10" fill="none" stroke="#444" stroke-width="0.5"/>
<path d="M492.35,74.50V68.70M491.45,68.70H493.25" stroke="#808080" stroke-width="0.6" fill="none"/>
<rect x="497.50" y="78.00" width="10.30" height="97.60" fill="none" stroke="#444" stroke-width="0.5"/>
<path d="M502.65,78.00V73.20M501.75,73.20H503.55" stroke="#808080" stroke-width="0.6" fill="none"/>
<path d="M294.8,24.5L295.4,176.29999999999998" stroke="#000" stroke-width="1.6" fill="none"/>
<path d="M294.59999999999997,175.6H514.5" stroke="#000" stroke-width="1.4" fill="none"/>
<text transform="translate(290.90,29.71) scale(0.9,1)" class="t" font-size="9.8" text-anchor="end" fill="#000">12</text>
<text transform="translate(290.90,55.01) scale(0.9,1)" class="t" font-size="9.8" text-anchor="end" fill="#000">10</text>
<text transform="translate(290.90,80.41) scale(0.9,1)" class="t" font-size="9.8" text-anchor="end" fill="#000">8</text>
<text transform="translate(290.90,106.21) scale(0.9,1)" class="t" font-size="9.8" text-anchor="end" fill="#000">6</text>
<text transform="translate(290.90,130.51) scale(0.9,1)" class="t" font-size="9.8" text-anchor="end" fill="#000">4</text>
<text transform="translate(290.90,156.51) scale(0.9,1)" class="t" font-size="9.8" text-anchor="end" fill="#000">2</text>
<text transform="translate(294.30,183.31) scale(0.9,1)" class="t" font-size="9.8" text-anchor="end" fill="#000">0</text>
<text transform="translate(278.5,102) rotate(-90) scale(0.96,1)" font-size="12.0" text-anchor="middle" fill="#000">CPM (x 10<tspan font-size="7" dy="-3.8">4</tspan><tspan dy="3.8">)</tspan></text>
<text x="326.5" y="188.1" class="x" font-size="9.5" text-anchor="middle" fill="#000">Thal</text>
<text x="381.5" y="188.1" class="x" font-size="9.5" text-anchor="middle" fill="#000">IMiD1</text>
<text x="436" y="188.1" class="x" font-size="9.5" text-anchor="middle" fill="#000">IMiD2</text>
<text x="491.2" y="188.1" class="x" font-size="9.5" text-anchor="middle" fill="#000">IMiD3</text>
<text x="303.5" y="16.6" font-size="17.5" fill="#000">B</text>
</g>
<g><!-- panel C -->
<rect x="37.20" y="241.00" width="9.50" height="134.20" fill="none" stroke="#3a3a3a" stroke-width="0.55"/>
<path d="M41.95,241.00V233.00M41.05,233.00H42.85" stroke="#808080" stroke-width="0.6" fill="none"/>
<rect x="46.70" y="248.00" width="10.70" height="127.20" fill="none" stroke="#444" stroke-width="0.5"/>
<path d="M52.05,248.00V243.70M51.15,243.70H52.95" stroke="#808080" stroke-width="0.6" fill="none"/>
<rect x="57.40" y="241.20" width="10.30" height="134.00" fill="none" stroke="#444" stroke-width="0.5"/>
<path d="M62.55,241.20V235.00M61.65,235.00H63.45" stroke="#808080" stroke-width="0.6" fill="none"/>
<rect x="67.70" y="244.50" width="10.30" height="130.70" fill="none" stroke="#444" stroke-width="0.5"/>
<path d="M72.85,244.50V242.00M71.95,242.00H73.75" stroke="#808080" stroke-width="0.6" fill="none"/>
<rect x="92.20" y="240.70" width="9.50" height="134.50" fill="none" stroke="#3a3a3a" stroke-width="0.55"/>
<path d="M96.95,240.70V233.00M96.05,233.00H97.85" stroke="#808080" stroke-width="0.6" fill="none"/>
<rect x="101.70" y="243.00" width="10.70" height="132.20" fill="none" stroke="#444" stroke-width="0.5"/>
<path d="M107.05,243.00V233.70M106.15,233.70H107.95" stroke="#808080" stroke-width="0.6" fill="none"/>
<rect x="112.40" y="273.20" width="10.30" height="102.00" fill="none" stroke="#444" stroke-width="0.5"/>
<path d="M117.55,273.20V267.50M116.65,267.50H118.45" stroke="#808080" stroke-width="0.6" fill="none"/>
<rect x="122.70" y="276.20" width="10.30" height="99.00" fill="none" stroke="#444" stroke-width="0.5"/>
<path d="M127.85,276.20V267.50M126.95,267.50H128.75" stroke="#808080" stroke-width="0.6" fill="none"/>
<rect x="147.00" y="240.70" width="9.50" height="134.50" fill="none" stroke="#3a3a3a" stroke-width="0.55"/>
<path d="M151.75,240.70V232.50M150.85,232.50H152.65" stroke="#808080" stroke-width="0.6" fill="none"/>
<rect x="156.50" y="242.50" width="10.70" height="132.70" fill="none" stroke="#444" stroke-width="0.5"/>
<path d="M161.85,242.50V239.50M160.95,239.50H162.75" stroke="#808080" stroke-width="0.6" fill="none"/>
<rect x="167.20" y="254.50" width="10.30" height="120.70" fill="none" stroke="#444" stroke-width="0.5"/>
<path d="M172.35,254.50V248.70M171.45,248.70H173.25" stroke="#808080" stroke-width="0.6" fill="none"/>
<rect x="177.50" y="255.00" width="10.30" height="120.20" fill="none" stroke="#444" stroke-width="0.5"/>
<path d="M182.65,255.00V252.00M181.75,252.00H183.55" stroke="#808080" stroke-width="0.6" fill="none"/>
<rect x="202.00" y="240.70" width="9.50" height="134.50" fill="none" stroke="#3a3a3a" stroke-width="0.55"/>
<path d="M206.75,240.70V232.50M205.85,232.50H207.65" stroke="#808080" stroke-width="0.6" fill="none"/>
<rect x="211.50" y="247.50" width="10.70" height="127.70" fill="none" stroke="#444" stroke-width="0.5"/>
<path d="M216.85,247.50V243.00M215.95,243.00H217.75" stroke="#808080" stroke-width="0.6" fill="none"/>
<rect x="222.20" y="277.50" width="10.30" height="97.70" fill="none" stroke="#444" stroke-width="0.5"/>
<path d="M227.35,277.50V269.50M226.45,269.50H228.25" stroke="#808080" stroke-width="0.6" fill="none"/>
<rect x="232.50" y="279.20" width="10.30" height="96.00" fill="none" stroke="#444" stroke-width="0.5"/>
<path d="M237.65,279.20V273.70M236.75,273.70H238.55" stroke="#808080" stroke-width="0.6" fill="none"/>
<path d="M29.8,223.2L29.8,375.9" stroke="#000" stroke-width="1.6" fill="none"/>
<path d="M29.0,375.2H249.5" stroke="#000" stroke-width="1.4" fill="none"/>
<text transform="translate(24.90,227.51) scale(0.9,1)" class="t" font-size="9.8" text-anchor="end" fill="#000">10</text>
<text transform="translate(24.90,242.51) scale(0.9,1)" class="t" font-size="9.8" text-anchor="end" fill="#000">9</text>
<text transform="translate(24.90,257.51) scale(0.9,1)" class="t" font-size="9.8" text-anchor="end" fill="#000">8</text>
<text transform="translate(24.90,273.01) scale(0.9,1)" class="t" font-size="9.8" text-anchor="end" fill="#000">7</text>
<text transform="translate(24.90,288.01) scale(0.9,1)" class="t" font-size="9.8" text-anchor="end" fill="#000">6</text>
<text transform="translate(24.90,304.01) scale(0.9,1)" class="t" font-size="9.8" text-anchor="end" fill="#000">5</text>
<text transform="translate(24.90,318.81) scale(0.9,1)" class="t" font-size="9.8" text-anchor="end" fill="#000">4</text>
<text transform="translate(24.90,334.01) scale(0.9,1)" class="t" font-size="9.8" text-anchor="end" fill="#000">3</text>
<text transform="translate(24.90,349.11) scale(0.9,1)" class="t" font-size="9.8" text-anchor="end" fill="#000">2</text>
<text transform="translate(24.90,364.11) scale(0.9,1)" class="t" font-size="9.8" text-anchor="end" fill="#000">1</text>
<text transform="translate(24.90,376.31) scale(0.9,1)" class="t" font-size="9.8" text-anchor="end" fill="#000">0</text>
<text transform="translate(14,300) rotate(-90) scale(0.96,1)" font-size="12.0" text-anchor="middle" fill="#000">CPM (x 10<tspan font-size="7" dy="-3.8">4</tspan><tspan dy="3.8">)</tspan></text>
<text x="59.5" y="385.8" class="x" font-size="9.5" text-anchor="middle" fill="#000">Thal</text>
<text x="115.3" y="385.8" class="x" font-size="9.5" text-anchor="middle" fill="#000">IMiD1</text>
<text x="168.5" y="385.8" class="x" font-size="9.5" text-anchor="middle" fill="#000">IMiD2</text>
<text x="223.8" y="385.8" class="x" font-size="9.5" text-anchor="middle" fill="#000">IMiD3</text>
<text x="38" y="216.5" font-size="17.5" fill="#000">C</text>
</g>
<g><!-- panel D -->
<rect x="303.00" y="243.20" width="9.50" height="133.20" fill="none" stroke="#3a3a3a" stroke-width="0.55"/>
<path d="M307.75,243.20V238.20M306.85,238.20H308.65" stroke="#808080" stroke-width="0.6" fill="none"/>
<rect x="312.50" y="245.00" width="10.70" height="131.40" fill="none" stroke="#444" stroke-width="0.5"/>
<path d="M317.85,245.00V237.50M316.95,237.50H318.75" stroke="#808080" stroke-width="0.6" fill="none"/>
<rect x="323.20" y="246.20" width="10.30" height="130.20" fill="none" stroke="#444" stroke-width="0.5"/>
<path d="M328.35,246.20V236.20M327.45,236.20H329.25" stroke="#808080" stroke-width="0.6" fill="none"/>
<rect x="333.50" y="248.00" width="10.30" height="128.40" fill="none" stroke="#444" stroke-width="0.5"/>
<path d="M338.65,248.00V240.70M337.75,240.70H339.55" stroke="#808080" stroke-width="0.6" fill="none"/>
<rect x="358.20" y="243.20" width="9.50" height="133.20" fill="none" stroke="#3a3a3a" stroke-width="0.55"/>
<path d="M362.95,243.20V238.20M362.05,238.20H363.85" stroke="#808080" stroke-width="0.6" fill="none"/>
<rect x="367.70" y="262.00" width="10.70" height="114.40" fill="none" stroke="#444" stroke-width="0.5"/>
<path d="M373.05,262.00V254.50M372.15,254.50H373.95" stroke="#808080" stroke-width="0.6" fill="none"/>
<rect x="378.40" y="270.50" width="10.30" height="105.90" fill="none" stroke="#444" stroke-width="0.5"/>
<path d="M383.55,270.50V268.20M382.65,268.20H384.45" stroke="#808080" stroke-width="0.6" fill="none"/>
<rect x="388.70" y="273.00" width="10.30" height="103.40" fill="none" stroke="#444" stroke-width="0.5"/>
<path d="M393.85,273.00V268.70M392.95,268.70H394.75" stroke="#808080" stroke-width="0.6" fill="none"/>
<rect x="413.50" y="243.20" width="9.50" height="133.20" fill="none" stroke="#3a3a3a" stroke-width="0.55"/>
<path d="M418.25,243.20V238.00M417.35,238.00H419.15" stroke="#808080" stroke-width="0.6" fill="none"/>
<rect x="423.00" y="247.50" width="10.70" height="128.90" fill="none" stroke="#444" stroke-width="0.5"/>
<path d="M428.35,247.50V238.00M427.45,238.00H429.25" stroke="#808080" stroke-width="0.6" fill="none"/>
<rect x="433.70" y="255.40" width="10.30" height="121.00" fill="none" stroke="#444" stroke-width="0.5"/>
<path d="M438.85,255.40V242.50M437.95,242.50H439.75" stroke="#808080" stroke-width="0.6" fill="none"/>
<rect x="444.00" y="263.40" width="10.30" height="113.00" fill="none" stroke="#444" stroke-width="0.5"/>
<path d="M449.15,263.40V251.20M448.25,251.20H450.05" stroke="#808080" stroke-width="0.6" fill="none"/>
<rect x="468.80" y="243.20" width="9.50" height="133.20" fill="none" stroke="#3a3a3a" stroke-width="0.55"/>
<path d="M473.55,243.20V238.00M472.65,238.00H474.45" stroke="#808080" stroke-width="0.6" fill="none"/>
<rect x="478.30" y="250.90" width="10.70" height="125.50" fill="none" stroke="#444" stroke-width="0.5"/>
<path d="M483.65,250.90V242.50M482.75,242.50H484.55" stroke="#808080" stroke-width="0.6" fill="none"/>
<rect x="489.00" y="257.40" width="10.30" height="119.00" fill="none" stroke="#444" stroke-width="0.5"/>
<path d="M494.15,257.40V245.70M493.25,245.70H495.05" stroke="#808080" stroke-width="0.6" fill="none"/>
<rect x="499.30" y="259.10" width="10.30" height="117.30" fill="none" stroke="#444" stroke-width="0.5"/>
<path d="M504.45,259.10V241.20M503.55,241.20H505.35" stroke="#808080" stroke-width="0.6" fill="none"/>
<path d="M295.1,224.5L296.2,377.09999999999997" stroke="#000" stroke-width="1.6" fill="none"/>
<path d="M295.4,376.4H516" stroke="#000" stroke-width="1.4" fill="none"/>
<text transform="translate(292.60,230.31) scale(0.9,1)" class="t" font-size="9.8" text-anchor="end" fill="#000">18</text>
<text transform="translate(292.60,247.41) scale(0.9,1)" class="t" font-size="9.8" text-anchor="end" fill="#000">16</text>
<text transform="translate(292.80,263.71) scale(0.9,1)" class="t" font-size="9.8" text-anchor="end" fill="#000">14</text>
<text transform="translate(292.90,281.41) scale(0.9,1)" class="t" font-size="9.8" text-anchor="end" fill="#000">12</text>
<text transform="translate(293.00,297.81) scale(0.9,1)" class="t" font-size="9.8" text-anchor="end" fill="#000">10</text>
<text transform="translate(292.10,312.51) scale(0.9,1)" class="t" font-size="9.8" text-anchor="end" fill="#000">8</text>
<text transform="translate(292.10,328.81) scale(0.9,1)" class="t" font-size="9.8" text-anchor="end" fill="#000">6</text>
<text transform="translate(292.10,345.51) scale(0.9,1)" class="t" font-size="9.8" text-anchor="end" fill="#000">4</text>
<text transform="translate(292.10,362.51) scale(0.9,1)" class="t" font-size="9.8" text-anchor="end" fill="#000">2</text>
<text transform="translate(292.10,377.61) scale(0.9,1)" class="t" font-size="9.8" text-anchor="end" fill="#000">0</text>
<text transform="translate(279.0,298) rotate(-90) scale(0.96,1)" font-size="12.0" text-anchor="middle" fill="#000">CPM (x 10<tspan font-size="7" dy="-3.8">4</tspan><tspan dy="3.8">)</tspan></text>
<text x="326.5" y="388.2" class="x" font-size="9.5" text-anchor="middle" fill="#000">Thal</text>
<text x="382.8" y="388.2" class="x" font-size="9.5" text-anchor="middle" fill="#000">IMiD1</text>
<text x="437" y="388.2" class="x" font-size="9.5" text-anchor="middle" fill="#000">IMiD2</text>
<text x="491.6" y="388.2" class="x" font-size="9.5" text-anchor="middle" fill="#000">IMiD3</text>
<text x="304.8" y="217" font-size="17.5" fill="#000">D</text>
</g>
<g><!-- panel E -->
<rect x="35.70" y="452.90" width="8.40" height="138.80" fill="none" stroke="#3a3a3a" stroke-width="0.55"/>
<path d="M39.90,452.90V449.20M39.00,449.20H40.80" stroke="#808080" stroke-width="0.6" fill="none"/>
<rect x="44.10" y="454.40" width="9.10" height="137.30" fill="none" stroke="#444" stroke-width="0.5"/>
<path d="M48.65,454.40V442.50M47.75,442.50H49.55" stroke="#808080" stroke-width="0.6" fill="none"/>
<rect x="53.20" y="457.00" width="8.10" height="134.70" fill="none" stroke="#444" stroke-width="0.5"/>
<path d="M57.25,457.00V445.70M56.35,445.70H58.15" stroke="#808080" stroke-width="0.6" fill="none"/>
<rect x="61.30" y="450.70" width="8.70" height="141.00" fill="none" stroke="#444" stroke-width="0.5"/>
<path d="M65.65,450.70V445.50M64.75,445.50H66.55" stroke="#808080" stroke-width="0.6" fill="none"/>
<rect x="70.00" y="452.70" width="8.30" height="139.00" fill="#000"/>
<path d="M74.15,452.70V439.20M73.25,439.20H75.05" stroke="#808080" stroke-width="0.6" fill="none"/>
<rect x="90.50" y="452.90" width="8.25" height="138.80" fill="none" stroke="#3a3a3a" stroke-width="0.55"/>
<path d="M94.62,452.90V449.20M93.72,449.20H95.53" stroke="#808080" stroke-width="0.6" fill="none"/>
<rect x="98.75" y="494.50" width="8.75" height="97.20" fill="none" stroke="#444" stroke-width="0.5"/>
<path d="M103.12,494.50V488.70M102.22,488.70H104.03" stroke="#808080" stroke-width="0.6" fill="none"/>
<rect x="107.50" y="519.70" width="8.75" height="72.00" fill="none" stroke="#444" stroke-width="0.5"/>
<path d="M111.88,519.70V514.00M110.97,514.00H112.78" stroke="#808080" stroke-width="0.6" fill="none"/>
<rect x="116.25" y="524.70" width="8.00" height="67.00" fill="none" stroke="#444" stroke-width="0.5"/>
<path d="M120.25,524.70V522.50M119.35,522.50H121.15" stroke="#808080" stroke-width="0.6" fill="none"/>
<rect x="124.25" y="528.00" width="8.30" height="63.70" fill="#000"/>
<path d="M128.40,528.00V525.00M127.50,525.00H129.30" stroke="#808080" stroke-width="0.6" fill="none"/>
<rect x="144.50" y="452.90" width="8.50" height="138.80" fill="none" stroke="#3a3a3a" stroke-width="0.55"/>
<path d="M148.75,452.90V448.70M147.85,448.70H149.65" stroke="#808080" stroke-width="0.6" fill="none"/>
<rect x="153.00" y="463.00" width="9.00" height="128.70" fill="none" stroke="#444" stroke-width="0.5"/>
<path d="M157.50,463.00V454.50M156.60,454.50H158.40" stroke="#808080" stroke-width="0.6" fill="none"/>
<rect x="162.00" y="483.20" width="8.50" height="108.50" fill="none" stroke="#444" stroke-width="0.5"/>
<path d="M166.25,483.20V478.20M165.35,478.20H167.15" stroke="#808080" stroke-width="0.6" fill="none"/>
<rect x="170.50" y="502.50" width="7.60" height="89.20" fill="none" stroke="#444" stroke-width="0.5"/>
<path d="M174.30,502.50V494.50M173.40,494.50H175.20" stroke="#808080" stroke-width="0.6" fill="none"/>
<rect x="178.10" y="505.50" width="9.00" height="86.20" fill="#000"/>
<path d="M182.60,505.50V501.20M181.70,501.20H183.50" stroke="#808080" stroke-width="0.6" fill="none"/>
<rect x="199.20" y="452.90" width="8.30" height="138.80" fill="none" stroke="#3a3a3a" stroke-width="0.55"/>
<path d="M203.35,452.90V448.70M202.45,448.70H204.25" stroke="#808080" stroke-width="0.6" fill="none"/>
<rect x="207.50" y="470.70" width="9.20" height="121.00" fill="none" stroke="#444" stroke-width="0.5"/>
<path d="M212.10,470.70V461.20M211.20,461.20H213.00" stroke="#808080" stroke-width="0.6" fill="none"/>
<rect x="216.70" y="490.00" width="9.00" height="101.70" fill="none" stroke="#444" stroke-width="0.5"/>
<path d="M221.20,490.00V485.00M220.30,485.00H222.10" stroke="#808080" stroke-width="0.6" fill="none"/>
<rect x="225.70" y="502.00" width="7.50" height="89.70" fill="none" stroke="#444" stroke-width="0.5"/>
<path d="M229.45,502.00V496.20M228.55,496.20H230.35" stroke="#808080" stroke-width="0.6" fill="none"/>
<rect x="233.20" y="504.50" width="8.50" height="87.20" fill="#000"/>
<path d="M237.45,504.50V499.50M236.55,499.50H238.35" stroke="#808080" stroke-width="0.6" fill="none"/>
<path d="M29.7,413.9L29.7,592.4000000000001" stroke="#000" stroke-width="1.6" fill="none"/>
<path d="M28.9,591.7H247.5" stroke="#000" stroke-width="1.4" fill="none"/>
<text transform="translate(27.00,421.71) scale(0.9,1)" class="t" font-size="9.8" text-anchor="end" fill="#000">2.5</text>
<text transform="translate(27.00,456.81) scale(0.9,1)" class="t" font-size="9.8" text-anchor="end" fill="#000">2.0</text>
<text transform="translate(27.00,492.61) scale(0.9,1)" class="t" font-size="9.8" text-anchor="end" fill="#000">1.5</text>
<text transform="translate(27.00,528.11) scale(0.9,1)" class="t" font-size="9.8" text-anchor="end" fill="#000">1.0</text>
<text transform="translate(27.00,559.81) scale(0.9,1)" class="t" font-size="9.8" text-anchor="end" fill="#000">0.5</text>
<text transform="translate(26.00,591.81) scale(0.9,1)" class="t" font-size="9.8" text-anchor="end" fill="#000">0</text>
<text transform="translate(12.3,505) rotate(-90) scale(0.96,1)" font-size="12.0" text-anchor="middle" fill="#000">CPM (x 10<tspan font-size="7" dy="-3.8">4</tspan><tspan dy="3.8">)</tspan></text>
<text x="55.8" y="603.2" class="x" font-size="9.5" text-anchor="middle" fill="#000">Thal</text>
<text x="111.3" y="603.2" class="x" font-size="9.5" text-anchor="middle" fill="#000">IMiD1</text>
<text x="166" y="603.2" class="x" font-size="9.5" text-anchor="middle" fill="#000">IMiD2</text>
<text x="221" y="603.2" class="x" font-size="9.5" text-anchor="middle" fill="#000">IMiD3</text>
<text x="38.7" y="406.5" font-size="17.5" fill="#000">E</text>
</g>
</g>
</svg>
</body></html>
